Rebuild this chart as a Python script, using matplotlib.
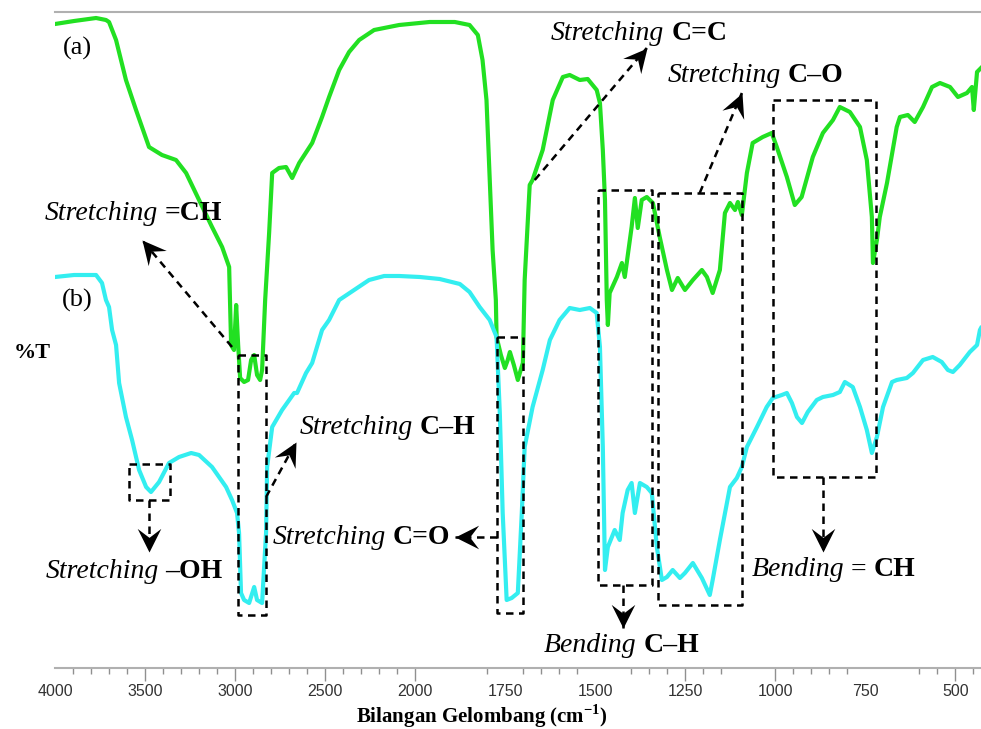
import numpy as np
import matplotlib
matplotlib.use('Agg')
import matplotlib.pyplot as plt
from matplotlib.markers import MarkerStyle
from matplotlib.path import Path
from matplotlib.transforms import Affine2D
from matplotlib.offsetbox import TextArea, HPacker, AnnotationBbox

plt.rcParams['mathtext.fontset'] = 'custom'
plt.rcParams['mathtext.rm'] = 'Liberation Serif:bold'
plt.rcParams['mathtext.bf'] = 'Liberation Serif:bold'

# spectrum (a), green
wn_a = [4000, 3894, 3772, 3717, 3700, 3661, 3606, 3550, 3478, 3406, 3328, 3272, 3200,
        3128, 3072, 3033, 3022, 3006, 2994, 2983, 2972, 2950, 2928, 2911, 2894, 2878,
        2861, 2850, 2833, 2811, 2794, 2756, 2717, 2683, 2644, 2572, 2517, 2478, 2422,
        2367, 2311, 2228, 2089, 1960, 1890, 1849, 1826, 1813, 1802, 1793, 1785, 1776,
        1774, 1762, 1751, 1743, 1737, 1726, 1715, 1707, 1701, 1696, 1687, 1682, 1674,
        1646, 1618, 1590, 1571, 1543, 1521, 1496, 1487, 1479, 1473, 1468, 1465, 1460,
        1440, 1426, 1418, 1399, 1390, 1382, 1371, 1357, 1340, 1321, 1301, 1287, 1271,
        1251, 1229, 1204, 1190, 1174, 1154, 1140, 1126, 1112, 1104, 1093, 1079, 1063,
        1035, 1010, 996, 968, 946, 927, 896, 868, 840, 821, 793, 765, 746, 732, 729,
        718, 710, 690, 663, 654, 632, 613, 590, 565, 543, 515, 493, 468, 454, 449, 440, 429]
t_a = [644, 647, 650, 648, 646, 628, 588, 558, 521, 513, 508, 495, 468,
       441, 421, 401, 323, 318, 363, 323, 290, 286, 288, 308, 313, 293,
       288, 298, 368, 435, 495, 500, 501, 490, 505, 525, 551, 571, 598,
       616, 628, 638, 643, 646, 646, 643, 633, 608, 568, 488, 418, 368,
       331, 313, 300, 308, 316, 303, 288, 298, 305, 388, 448, 483, 488,
       518, 568, 591, 593, 588, 589, 578, 565, 518, 468, 368, 343, 375,
       391, 405, 391, 441, 470, 440, 468, 471, 465, 431, 398, 378, 390,
       378, 388, 398, 391, 375, 398, 455, 465, 458, 466, 453, 495, 525,
       531, 535, 521, 491, 463, 471, 511, 535, 548, 561, 556, 541, 508, 451, 405,
       428, 451, 485, 541, 551, 553, 546, 561, 581, 585, 581, 571, 575, 581, 558, 596, 600]

# spectrum (b), cyan
wn_b = [4000, 3894, 3772, 3739, 3717, 3700, 3683, 3661, 3644, 3606, 3572, 3533, 3494,
        3467, 3422, 3367, 3311, 3244, 3200, 3128, 3050, 3017, 2989, 2978, 2967, 2950,
        2922, 2894, 2878, 2850, 2828, 2822, 2794, 2739, 2672, 2656, 2606, 2572, 2517,
        2478, 2422, 2339, 2256, 2172, 2089, 1987, 1932, 1876, 1849, 1821, 1793, 1774,
        1765, 1757, 1746, 1732, 1715, 1704, 1696, 1674, 1646, 1626, 1599, 1571, 1543,
        1515, 1496, 1487, 1479, 1473, 1465, 1446, 1432, 1424, 1410, 1399, 1390, 1376,
        1357, 1343, 1329, 1315, 1301, 1285, 1265, 1251, 1229, 1204, 1182, 1174, 1154,
        1126, 1107, 1093, 1079, 1051, 1024, 1007, 982, 968, 954, 940, 926, 910, 885,
        868, 840, 821, 807, 785, 765, 746, 732, 718, 701, 676, 663, 635, 618, 590,
        563, 538, 521, 507, 488, 460, 440, 432, 429]
t_b = [391, 393, 393, 385, 368, 361, 338, 323, 285, 251, 228, 198, 181,
       176, 186, 205, 211, 215, 213, 201, 181, 168, 155, 135, 75, 68,
       65, 81, 68, 65, 135, 201, 241, 258, 275, 275, 295, 305, 338,
       348, 368, 378, 388, 392, 392, 391, 389, 384, 376, 361, 348, 331,
       255, 155, 68, 70, 75, 155, 221, 261, 298, 328, 348, 360, 358,
       360, 355, 321, 221, 98, 121, 138, 128, 155, 178, 185, 155, 185,
       181, 175, 121, 88, 91, 98, 90, 95, 105, 90, 73, 88, 128,
       181, 190, 201, 221, 241, 261, 270, 273, 275, 265, 251, 245, 256, 268,
       271, 273, 276, 286, 281, 261, 238, 215, 231, 261, 286, 288, 290, 295, 308,
       311, 306, 298, 296, 303, 316, 323, 338, 340]

tick_labels = [4000, 3500, 3000, 2500, 2000, 1750, 1500, 1250, 1000, 750, 500]
tall_ticks = [3500, 3000, 2500, 2000, 1250, 1000, 500]
minor_ticks = [3900, 3800, 3700, 3600, 3400, 3300, 3200, 3100, 2900, 2800, 2700, 2600,
               2400, 2300, 2200, 2100, 1800, 1750, 1700, 1650, 1600, 1550, 1400, 1350,
               1300, 1200, 1150, 950, 900, 850, 800, 600, 550, 450]


# FTIR axis: half scale above 2000 cm-1
def fwd(x):
    x = np.asarray(x, dtype=float)
    return np.where(x >= 2000, x, 2 * x - 2000)


def inv(x):
    x = np.asarray(x, dtype=float)
    return np.where(x >= 2000, x, (x + 2000) / 2)


fig = plt.figure(figsize=(9.81, 7.29), dpi=100)
ax = fig.add_axes([55 / 981, 61 / 729, 926 / 981, 656 / 729])
ax.set_xscale('function', functions=(fwd, inv))
ax.set_xlim(4000, 429)
ax.set_ylim(0, 656)

ax.plot(wn_a, t_a, color='#22e022', lw=3, solid_joinstyle='round')
ax.plot(wn_b, t_b, color='#33eef0', lw=3, solid_joinstyle='round')

for side in ['left', 'right']:
    ax.spines[side].set_visible(False)
for side in ['top', 'bottom']:
    ax.spines[side].set_color('#b0b0b0')
    ax.spines[side].set_linewidth(1.5)
ax.set_yticks([])
ax.set_xticks(tick_labels, labels=[str(v) for v in tick_labels],
              family=['Liberation Sans Narrow', 'Liberation Sans'], fontsize=11.5)
ax.set_xticks(minor_ticks, minor=True)
ax.tick_params(axis='x', which='major', direction='out', length=9, width=1,
               color='#909090', labelcolor='#333333', pad=2.5)
ax.tick_params(axis='x', which='minor', direction='out', length=4.5, width=1,
               color='#909090')
for tk in ax.xaxis.get_major_ticks():
    if tk.get_loc() not in tall_ticks:
        tk.tick1line.set_visible(False)

SERIF = 'Liberation Serif'
DASH = (3.0, 2.2)

head = Path([(0, 0), (-1, 0.5), (-0.62, 0), (-1, -0.5), (0, 0)],
            [Path.MOVETO, Path.LINETO, Path.LINETO, Path.LINETO, Path.CLOSEPOLY])


def label(parts, x, y, size=20):
    boxes = []
    for s, st in parts:
        props = dict(family=SERIF, size=size, color='black')
        if st == 'i':
            props['style'] = 'italic'
        elif st == 'b':
            props['weight'] = 'bold'
        boxes.append(TextArea(s, textprops=props))
    pack = HPacker(children=boxes, align='baseline', pad=0, sep=5)
    ab = AnnotationBbox(pack, (x, y), xycoords='data', frameon=False,
                        box_alignment=(0.5, 0.5), pad=0, annotation_clip=False)
    ax.add_artist(ab)


def dbox(x0, x1, y0, y1):
    ax.plot([x0, x1, x1, x0, x0], [y0, y0, y1, y1, y0], color='k', lw=1.8,
            dashes=DASH, clip_on=False)


def arrow(x0, y0, x1, y1):
    ax.plot([x0, x1], [y0, y1], color='k', lw=1.8, dashes=DASH, clip_on=False)
    p0 = ax.transData.transform((x0, y0))
    p1 = ax.transData.transform((x1, y1))
    ang = np.degrees(np.arctan2(p1[1] - p0[1], p1[0] - p0[0]))
    m = MarkerStyle(head, transform=Affine2D().rotate_deg(ang))
    ax.plot([x1], [y1], marker=m, ms=34, color='k', mew=0, ls='none', clip_on=False)


# spectrum tags
ax.text(3878, 620, '(a)', family=SERIF, size=19, ha='center', va='center')
ax.text(3878, 368, '(b)', family=SERIF, size=19, ha='center', va='center')
fig.text(32 / 981, 1 - 353 / 729, '%T', family=SERIF, weight='bold', size=16,
         ha='center', va='center')
fig.text(482 / 981, 1 - 716 / 729, 'Bilangan Gelombang (cm$^{-1}$)', family=SERIF,
         weight='bold', size=15, ha='center', va='center')

# =CH stretching
dbox(2983, 2828, 313, 53)
arrow(3017, 321, 3517, 428)
label([('Stretching', 'i'), ('=CH', 'b')], 3564, 455)

# C-H stretching
arrow(2828, 171, 2661, 226)
label([('Stretching', 'i'), ('C\u2013H', 'b')], 2153, 240)

# -OH stretching
dbox(3589, 3361, 204, 168)
arrow(3478, 168, 3478, 116)
label([('Stretching', 'i'), ('\u2013OH', 'b')], 3561, 96)

# C=O stretching
dbox(1774, 1701, 331, 55)
arrow(1774, 131, 1890, 131)
label([('Stretching', 'i'), ('C=O', 'b')], 2297, 131)

# C=C stretching
arrow(1668, 488, 1357, 620)
label([('Stretching', 'i'), ('C=C', 'b')], 1378, 635)

# C-O stretching
dbox(1326, 1093, 475, 63)
arrow(1210, 475, 1093, 575)
label([('Stretching', 'i'), ('C\u2013O', 'b')], 1055, 593)

# C-H bending
dbox(1493, 1343, 478, 83)
arrow(1424, 83, 1424, 40)
label([('Bending', 'i'), ('C\u2013H', 'b')], 1427, 23)

# =CH bending
dbox(1007, 721, 568, 191)
arrow(868, 191, 868, 116)
label([('Bending', 'i'), ('=', ''), ('CH', 'b')], 839, 98)

fig.savefig('out.png', dpi=100)
